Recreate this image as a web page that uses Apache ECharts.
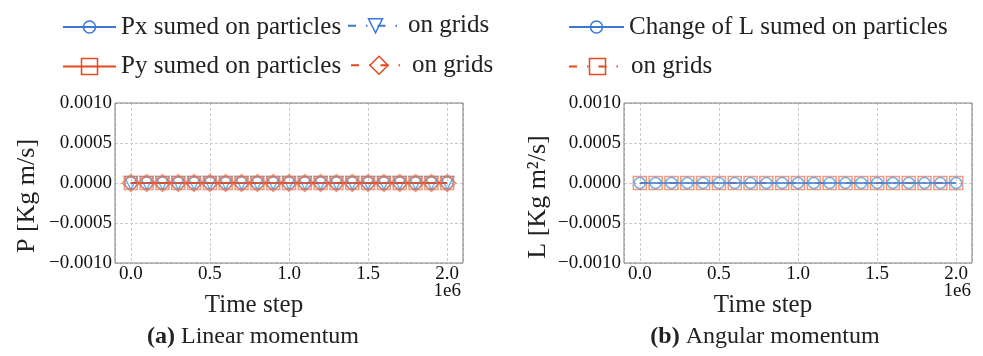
<!DOCTYPE html>
<html><head><meta charset="utf-8">
<script src="https://cdn.jsdelivr.net/npm/echarts@6/dist/echarts.min.js"></script>
<style>html,body{margin:0;padding:0;background:#fff}#c{width:983px;height:356px}</style>
</head><body><div id="c"></div>
<script>
// ---- data ----
const timeSteps = [0, 100000, 200000, 300000, 400000, 500000, 600000, 700000, 800000, 900000, 1000000,
  1100000, 1200000, 1300000, 1400000, 1500000, 1600000, 1700000, 1800000, 1900000, 2000000];
const pxParticles = [0,0,0,0,0,0,0,0,0,0,0,0,0,0,0,0,0,0,0,0,0];
const pxGrids     = [0,0,0,0,0,0,0,0,0,0,0,0,0,0,0,0,0,0,0,0,0];
const pyParticles = [0,0,0,0,0,0,0,0,0,0,0,0,0,0,0,0,0,0,0,0,0];
const pyGrids     = [0,0,0,0,0,0,0,0,0,0,0,0,0,0,0,0,0,0,0,0,0];
const lParticles  = [0,0,0,0,0,0,0,0,0,0,0,0,0,0,0,0,0,0,0,0,0];
const lGrids      = [0,0,0,0,0,0,0,0,0,0,0,0,0,0,0,0,0,0,0,0,0];
const legendLabels = {
  px: 'Px sumed on particles', pxg: 'on grids',
  py: 'Py sumed on particles', pyg: 'on grids',
  lp: 'Change of L sumed on particles', lg: 'on grids'
};
const yTitles = ['P [Kg m/s]', 'L [Kg m\u00b2/s]'];
const xTitle = 'Time step';
const captions = [['(a)', 'Linear momentum'], ['(b)', 'Angular momentum']];
const xOffsetText = '1e6';

// ---- styles ----
const FONT = '"Liberation Serif", "Times New Roman", serif';
const BLUE = '#3a78d4', ORANGE = '#e8481c';
const BLUE_M = 'rgba(70,150,220,0.75)', ORANGE_M = 'rgba(238,110,70,0.7)';
const DASHDOT = [8, 10, 1.5, 10];

const pair = arr => arr.map((v, i) => [timeSteps[i], v]);

function ser(name, data, grid, symbol, size, mColor, lColor, dash, z, rot) {
  return {
    type: 'line', name, data: pair(data), xAxisIndex: grid, yAxisIndex: grid,
    symbol, symbolSize: size, symbolRotate: rot || 0, showAllSymbol: true, z,
    itemStyle: {color: 'rgba(0,0,0,0)', borderColor: mColor, borderWidth: 1.5},
    lineStyle: {color: lColor, width: 1.5, type: dash || 'solid'},
    emphasis: {disabled: true}, silent: true
  };
}

function leg(key, left, centerY, ih, iw, color) {
  return {
    data: [key], left, top: centerY - ih / 2, padding: 0, itemWidth: iw, itemHeight: ih,
    selectedMode: false, formatter: () => legendLabels[key],
    textStyle: {fontFamily: FONT, fontSize: 25, color: '#222'},
    itemStyle: {borderColor: color, borderWidth: 1.5}
  };
}

function xAx(grid) {
  return {
    type: 'value', gridIndex: grid, min: -100000, max: 2100000, splitNumber: 5,
    axisLine: {show: false}, axisTick: {show: false},
    axisLabel: {showMinLabel: false, showMaxLabel: false, margin: 2,
      fontFamily: FONT, fontSize: 19, color: '#111',
      formatter: v => (v / 1e6).toFixed(1)},
    splitLine: {show: true, lineStyle: {color: '#cccccc', type: [3, 2], width: 1}}
  };
}
function yAx(grid) {
  return {
    type: 'value', gridIndex: grid, min: -0.001, max: 0.001, interval: 0.0005,
    axisLine: {show: false}, axisTick: {show: false},
    axisLabel: {margin: 3, fontFamily: FONT, fontSize: 19, color: '#111',
      formatter: v => v.toFixed(4).replace('-', '\u2212')},
    splitLine: {show: true, lineStyle: {color: '#cccccc', type: [3, 2], width: 1}}
  };
}

function txt(text, x, y, size, opts) {
  return Object.assign({type: 'text', x, y, silent: true,
    style: {text, fontFamily: FONT, fontSize: size, fill: '#222', align: 'center', verticalAlign: 'middle'}}, opts || {});
}

const chart = echarts.init(document.getElementById('c'));
chart.setOption({
  animation: false,
  backgroundColor: '#fff',
  grid: [
    {left: 115, top: 103, width: 348, height: 160, show: true, borderColor: '#808080', borderWidth: 1, backgroundColor: 'rgba(0,0,0,0)', z: 5},
    {left: 624, top: 103, width: 348, height: 160, show: true, borderColor: '#808080', borderWidth: 1, backgroundColor: 'rgba(0,0,0,0)', z: 5}
  ],
  xAxis: [xAx(0), xAx(1)],
  yAxis: [yAx(0), yAx(1)],
  legend: [
    leg('px', 62, 22, 15, 53, BLUE),
    leg('pxg', 347, 22, 17.5, 55, BLUE),
    leg('py', 62, 64, 20, 53, ORANGE),
    leg('pyg', 350, 64, 22.5, 56, ORANGE),
    leg('lp', 568, 22, 15, 55, BLUE),
    leg('lg', 568, 64, 20, 57, ORANGE)
  ],
  series: [
    ser('px', pxParticles, 0, 'circle', 12, BLUE_M, BLUE, null, 2),
    ser('pxg', pxGrids, 0, 'triangle', 13, BLUE_M, BLUE, DASHDOT, 2, 180),
    ser('pyg', pyGrids, 0, 'diamond', 17, ORANGE_M, ORANGE, DASHDOT, 2),
    ser('py', pyParticles, 0, 'rect', 13, ORANGE_M, ORANGE, null, 3),
    ser('lg', lGrids, 1, 'rect', 13, ORANGE_M, ORANGE, DASHDOT, 2),
    ser('lp', lParticles, 1, 'circle', 11, BLUE_M, BLUE, null, 3)
  ],
  graphic: [
    txt(yTitles[0], 27, 196, 26, {rotation: Math.PI / 2}),
    txt(yTitles[1], 538, 197, 26, {rotation: Math.PI / 2}),
    txt(xOffsetText, 461, 291, 19, {style: {text: xOffsetText, fontFamily: FONT, fontSize: 19, fill: '#111', align: 'right', verticalAlign: 'middle'}}),
    txt(xOffsetText, 971, 291, 19, {style: {text: xOffsetText, fontFamily: FONT, fontSize: 19, fill: '#111', align: 'right', verticalAlign: 'middle'}}),
    txt(xTitle, 254, 305, 25),
    txt(xTitle, 763, 305, 25),
    {type: 'text', x: 253, y: 337, silent: true, style: {
      text: '{b|' + captions[0][0] + '} ' + captions[0][1], fontFamily: FONT, fontSize: 24, fill: '#222',
      align: 'center', verticalAlign: 'middle',
      rich: {b: {fontFamily: FONT, fontSize: 24, fontWeight: 'bold', fill: '#222'}}}},
    {type: 'text', x: 765, y: 337, silent: true, style: {
      text: '{b|' + captions[1][0] + '} ' + captions[1][1], fontFamily: FONT, fontSize: 24, fill: '#222',
      align: 'center', verticalAlign: 'middle',
      rich: {b: {fontFamily: FONT, fontSize: 24, fontWeight: 'bold', fill: '#222'}}}}
  ]
});
</script></body></html>
